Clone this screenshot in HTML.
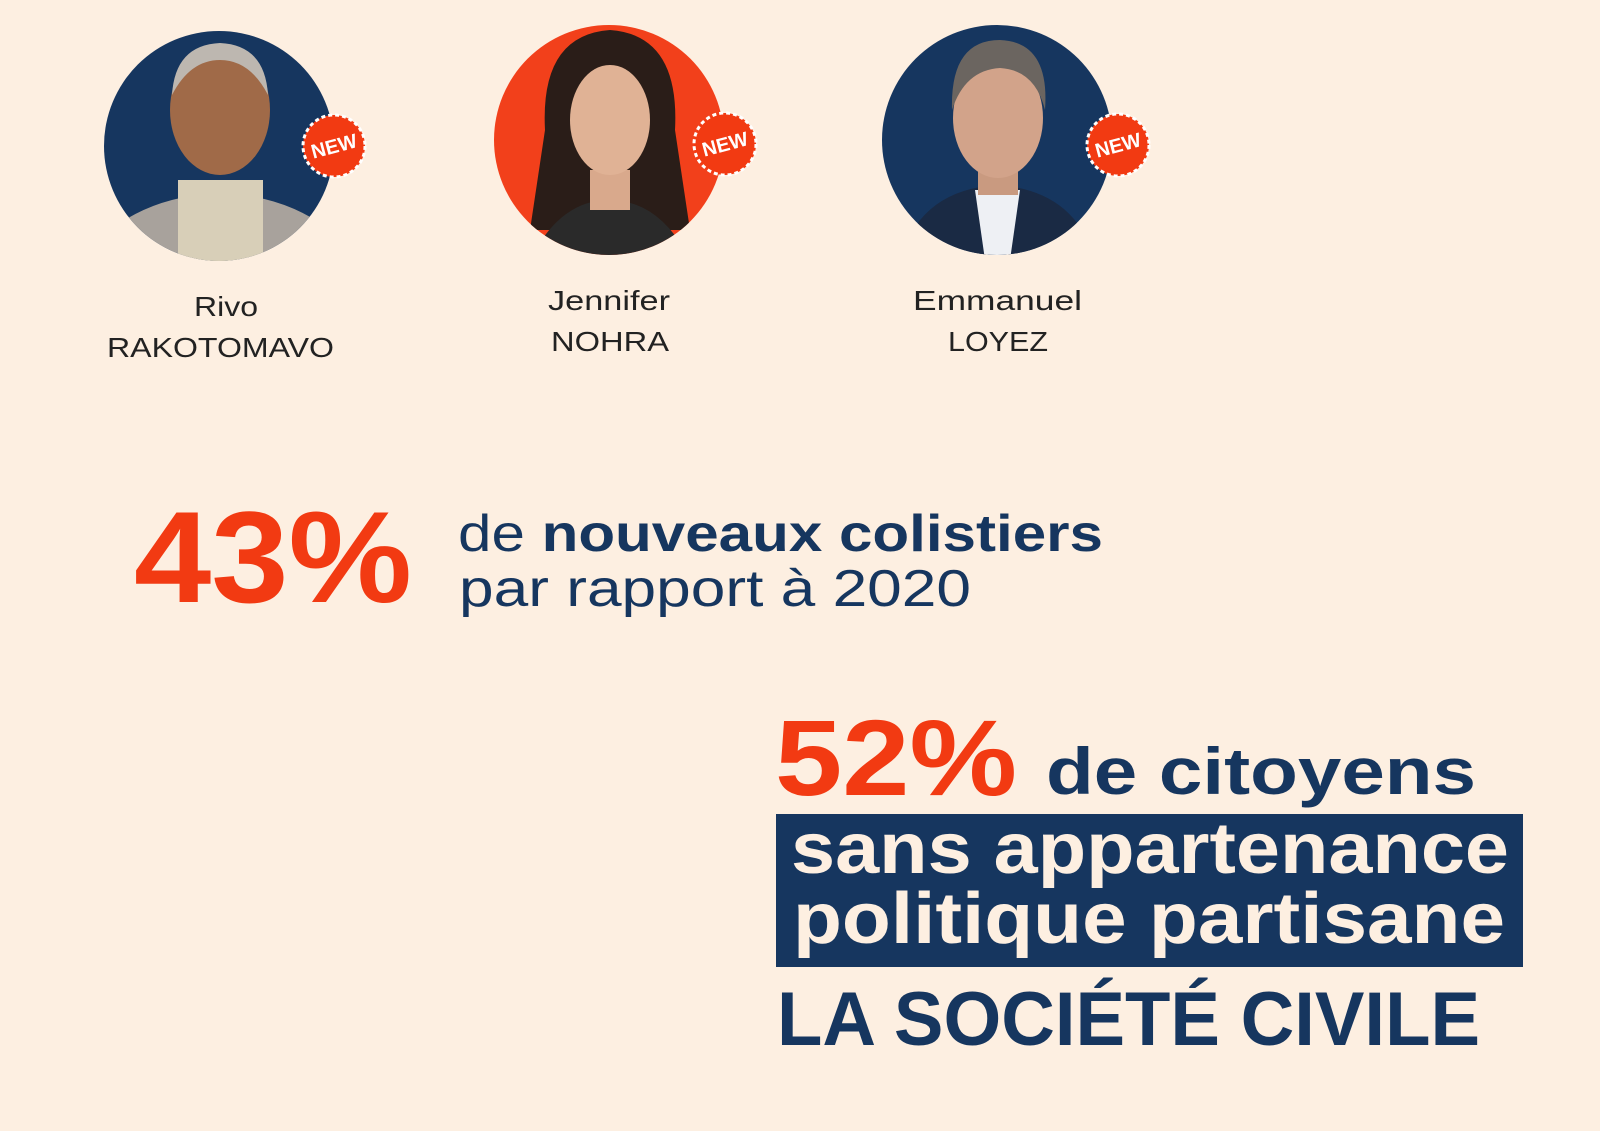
<!DOCTYPE html>
<html><head><meta charset="utf-8"><style>
html,body{margin:0;padding:0;background:#fdefe1;}
svg{display:block}
</style></head><body>
<svg width="1600" height="1131" viewBox="0 0 1600 1131" xmlns="http://www.w3.org/2000/svg" font-family="Liberation Sans, sans-serif">
<rect width="1600" height="1131" fill="#fdefe1"/>
<defs>
<clipPath id="c1"><circle cx="219" cy="146" r="115"/></clipPath>
<clipPath id="c2"><circle cx="609" cy="140" r="115"/></clipPath>
<clipPath id="c3"><circle cx="997" cy="140" r="115"/></clipPath>
</defs>
<circle cx="219" cy="146" r="115" fill="#16365f"/>
<g clip-path="url(#c1)">
<path d="M110 230 Q150 200 200 195 L240 195 Q290 200 330 230 L330 270 L110 270Z" fill="#a8a29c"/>
<rect x="178" y="180" width="85" height="90" fill="#d8cfb8"/>
<ellipse cx="220" cy="110" rx="50" ry="65" fill="#a06a48"/>
<path d="M172 95 Q175 45 220 43 Q265 45 268 95 Q250 60 220 60 Q190 60 172 95Z" fill="#bdb7b0"/>
</g>
<circle cx="609" cy="140" r="115" fill="#f2401b"/>
<g clip-path="url(#c2)">
<path d="M545 130 Q540 35 610 30 Q680 35 675 130 L690 230 L530 230Z" fill="#2a1d18"/>
<path d="M530 260 Q560 200 609 200 Q660 200 690 260Z" fill="#2a2a2a"/>
<rect x="590" y="170" width="40" height="40" fill="#d9a98c"/>
<ellipse cx="610" cy="120" rx="40" ry="55" fill="#e0b295"/>
</g>
<circle cx="997" cy="140" r="115" fill="#16365f"/>
<g clip-path="url(#c3)">
<path d="M900 260 Q920 190 997 185 Q1075 190 1095 260Z" fill="#1a2a44"/>
<path d="M975 190 L1020 190 L1010 260 L985 260Z" fill="#eef0f4"/>
<rect x="978" y="160" width="40" height="35" fill="#c99a80"/>
<ellipse cx="998" cy="118" rx="45" ry="60" fill="#d2a38a"/>
<path d="M952 110 Q950 40 1000 40 Q1050 42 1045 110 Q1035 70 1000 68 Q965 70 952 110Z" fill="#6b6560"/>
</g>
<g fill="#f23a12" stroke="#fff" stroke-width="3" stroke-dasharray="4 3">
<circle cx="334" cy="146" r="31"/>
<circle cx="725" cy="144" r="31"/>
<circle cx="1118" cy="145" r="31"/>
</g>
<g fill="#fff" font-weight="bold" font-size="20" text-anchor="middle">
<text x="334" y="153" transform="rotate(-15 334 146)">NEW</text>
<text x="725" y="151" transform="rotate(-15 725 144)">NEW</text>
<text x="1118" y="152" transform="rotate(-15 1118 145)">NEW</text>
</g>
<g fill="#222" font-size="28">
<text x="194" y="316" textLength="64" lengthAdjust="spacingAndGlyphs">Rivo</text>
<text x="107" y="357" textLength="227" lengthAdjust="spacingAndGlyphs">RAKOTOMAVO</text>
<text x="548" y="310" textLength="122" lengthAdjust="spacingAndGlyphs">Jennifer</text>
<text x="551" y="351" textLength="118" lengthAdjust="spacingAndGlyphs">NOHRA</text>
<text x="913" y="310" textLength="169" lengthAdjust="spacingAndGlyphs">Emmanuel</text>
<text x="948" y="351" textLength="100" lengthAdjust="spacingAndGlyphs">LOYEZ</text>
</g>
<text x="134" y="602" font-size="130" font-weight="bold" fill="#f23a12" textLength="278" lengthAdjust="spacingAndGlyphs">43%</text>
<text x="458" y="551" font-size="52" fill="#16365f" textLength="645" lengthAdjust="spacingAndGlyphs">de <tspan font-weight="bold">nouveaux colistiers</tspan></text>
<text x="459" y="606" font-size="52" fill="#16365f" textLength="512" lengthAdjust="spacingAndGlyphs">par rapport à 2020</text>
<text x="775" y="795" font-size="108" font-weight="bold" fill="#f23a12" textLength="242" lengthAdjust="spacingAndGlyphs">52%</text>
<text x="1046" y="794" font-size="66" font-weight="bold" fill="#16365f" textLength="430" lengthAdjust="spacingAndGlyphs">de citoyens</text>
<rect x="776" y="814" width="747" height="153" fill="#16365f"/>
<text x="791" y="873" font-size="72" font-weight="bold" fill="#fdefe1" textLength="718" lengthAdjust="spacingAndGlyphs">sans appartenance</text>
<text x="793" y="943" font-size="72" font-weight="bold" fill="#fdefe1" textLength="712" lengthAdjust="spacingAndGlyphs">politique partisane</text>
<text x="777" y="1045" font-size="76" font-weight="bold" fill="#16365f" textLength="703" lengthAdjust="spacingAndGlyphs">LA SOCIÉTÉ CIVILE</text>
</svg>
</body></html>
